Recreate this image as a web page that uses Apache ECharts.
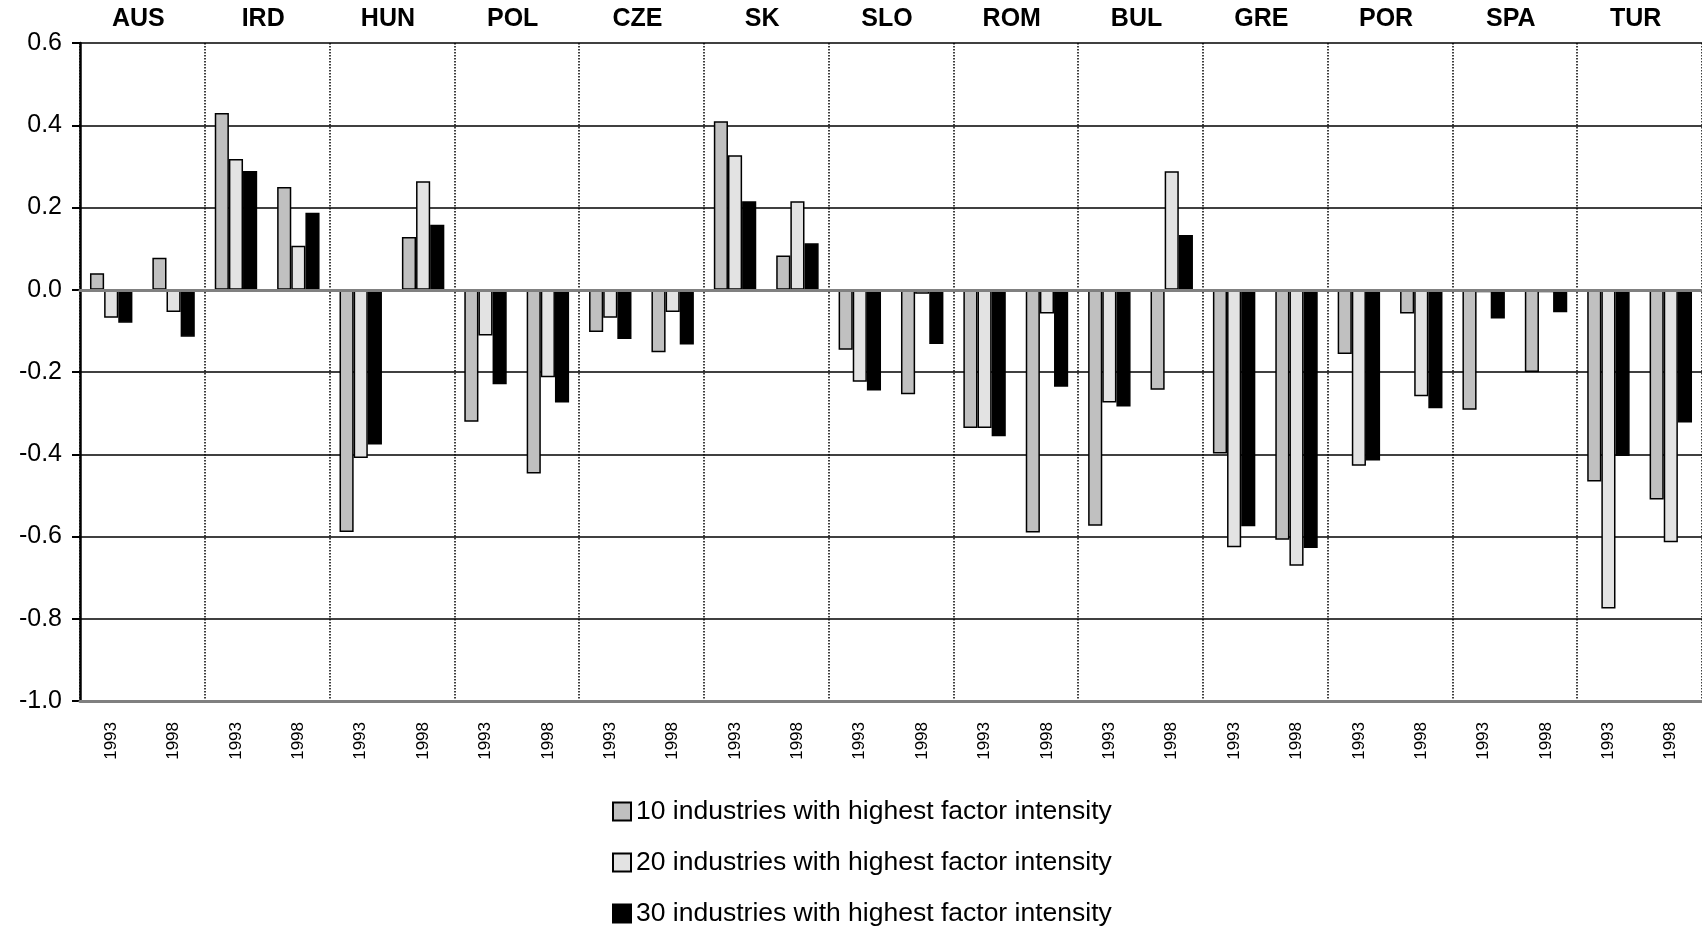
<!DOCTYPE html>
<html>
<head>
<meta charset="utf-8">
<script src="https://cdn.jsdelivr.net/npm/echarts@6/dist/echarts.min.js"></script>
<style>
	html, body { margin: 0; padding: 0; background: #fff; }
	#chart { width: 1702px; height: 930px; }
</style>
</head>
<body>
<div id="chart"></div>
<script>
// country groups (top axis) and the two years inside each group (bottom axis)
const countries = ['AUS', 'IRD', 'HUN', 'POL', 'CZE', 'SK', 'SLO', 'ROM', 'BUL', 'GRE', 'POR', 'SPA', 'TUR']
const years = countries.flatMap(() => ['1993', '1998'])

const names = [
	'10 industries with highest factor intensity',
	'20 industries with highest factor intensity',
	'30 industries with highest factor intensity'
]

// values, in order AUS 1993, AUS 1998, IRD 1993, ...
const top10 = [0.040, 0.078, 0.430, 0.250, -0.589, 0.128, -0.321, -0.447, -0.103, -0.152, 0.410, 0.083, -0.146,
	-0.254, -0.336, -0.590, -0.574, -0.243, -0.398, -0.608, -0.156, -0.058, -0.292, -0.200, -0.466, -0.510]
const top20 = [-0.068, -0.054, 0.318, 0.107, -0.409, 0.264, -0.111, -0.213, -0.068, -0.054, 0.327, 0.215, -0.224,
	-0.010, -0.336, -0.058, -0.274, 0.288, -0.626, -0.671, -0.428, -0.259, -0.006, -0.006, -0.775, -0.614]
const top30 = [-0.080, -0.114, 0.289, 0.187, -0.376, 0.158, -0.230, -0.274, -0.120, -0.133, 0.215, 0.113, -0.245,
	-0.132, -0.356, -0.236, -0.284, 0.133, -0.575, -0.628, -0.415, -0.288, -0.070, -0.055, -0.404, -0.323]

const yTicks = { min: -1, max: 0.6, interval: 0.2 }

const font = '"Liberation Sans", Arial, Helvetica, sans-serif'
const fills = ['#c0c0c0', '#e3e3e3', '#000000']

const chart = echarts.init(document.getElementById('chart'), null, { renderer: 'canvas' })

chart.setOption({
	animation: false,
	backgroundColor: '#fff',
	textStyle: { fontFamily: font, color: '#000' },
	grid: { left: 80, right: -15, top: 43, bottom: 229, containLabel: false },
	legend: {
		orient: 'vertical',
		left: 612,
		top: 798,
		padding: 0,
		itemGap: 24,
		itemWidth: 18,
		itemHeight: 18,
		icon: 'rect',
		textStyle: { fontFamily: font, fontSize: 26.5, color: '#000' },
		data: names
	},
	xAxis: [
		{
			type: 'category',
			data: years,
			position: 'bottom',
			z: 3,
			axisLine: { onZero: false, lineStyle: { color: '#808080', width: 3 } },
			axisTick: { show: false },
			axisLabel: {
				rotate: 90,
				margin: 21,
				interval: 0,
				fontSize: 17,
				fontFamily: font,
				color: '#000'
			},
			splitLine: { show: false }
		},
		{
			type: 'category',
			data: countries,
			position: 'top',
			z: 3,
			axisLine: { lineStyle: { color: '#808080', width: 3 } },
			axisTick: { show: false },
			axisLabel: {
				margin: 11,
				interval: 0,
				fontSize: 25,
				fontWeight: 'bold',
				fontFamily: font,
				color: '#000',
				padding: [0, 8, 0, 0]
			},
			splitLine: { show: true, interval: 0, lineStyle: { type: 'dotted', color: '#000', width: 1.5 } }
		}
	],
	yAxis: {
		type: 'value',
		...yTicks,
		axisLine: { show: true, lineStyle: { color: '#000', width: 2.5 } },
		axisTick: { show: true, length: 8, lineStyle: { color: '#000', width: 2 } },
		axisLabel: {
			margin: 18,
			fontSize: 25,
			fontFamily: font,
			color: '#000',
			formatter: v => v.toFixed(1)
		},
		splitLine: { show: true, lineStyle: { color: '#000', width: 1.5 } }
	},
	series: [top10, top20, top30].map((data, i) => ({
		name: names[i],
		type: 'bar',
		xAxisIndex: 0,
		data,
		barGap: '0%',
		barCategoryGap: '32%',
		itemStyle: { color: fills[i], borderColor: '#000', borderWidth: 1.5 }
	}))
})
</script>
</body>
</html>
